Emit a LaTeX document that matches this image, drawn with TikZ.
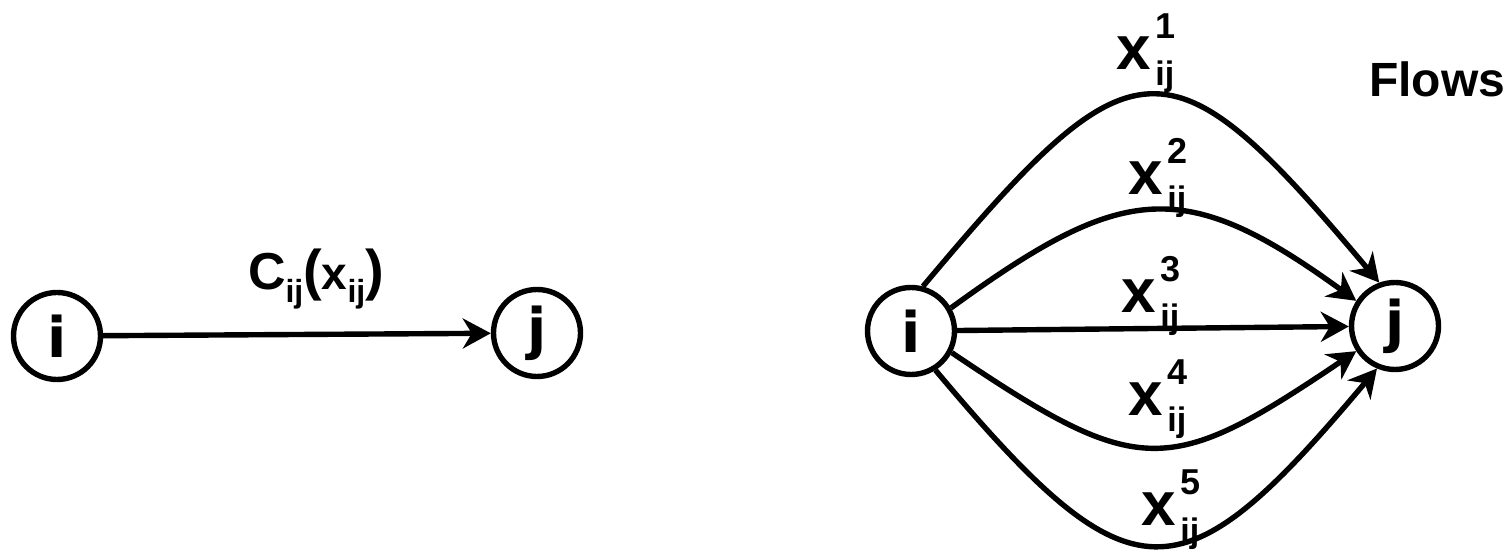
\documentclass[tikz,border=0pt]{standalone}
\usepackage{fontspec}
\setmainfont{Liberation Sans}
\newfontfamily\vertexfont{DejaVu Sans}
\usetikzlibrary{arrows.meta}

% font size in points, with matching baseline skip
\newcommand\setfs[1]{\fontsize{#1}{#1}\selectfont}
% flow variable x with stacked superscript (path index) and subscript ij
\newcommand\flowvar[1]{\textbf{\setfs{62}x\kern5pt\rlap{\raisebox{31pt}{\setfs{36}#1}}\raisebox{-16pt}{\setfs{34}ij}}}

\tikzset{
  vertex/.style={circle, draw, line width=5.4pt, minimum size=87pt, inner sep=0pt,
                 font=\vertexfont\bfseries\setfs{56}},
  arc/.style={line width=5.4pt, -{Stealth[length=28pt,width=30pt,inset=9pt]}},
  lbl/.style={anchor=base west, inner sep=0pt, outer sep=0pt},
}

\begin{document}
\begin{tikzpicture}[x=1pt, y=1pt]
  \useasboundingbox (0,0) rectangle (1506,551);
  \fill[white] (0,0) rectangle (1506,551);

  % single arc with cost function
  \node[vertex] (li) at (57,215) {i};
  \node[vertex] (lj) at (537,218) {j};
  \draw[arc] (li) -- (lj);
  \node[lbl] (cost) at (248,261) {\textbf{\setfs{52}C\raisebox{-13pt}{\setfs{32}ij}{\setfs{56}(}\setfs{46}x\raisebox{-13pt}{\setfs{32}ij}{\setfs{56})}}};

  % parallel flows between the same pair of vertices
  \node[vertex] (ri) at (911,220) {i};
  \node[vertex] (rj) at (1395,225) {j};
  \draw[arc] (ri.75)  .. controls +(50:329)   and +(130:329)  .. (rj.110);
  \draw[arc] (ri.30)  .. controls +(36:213)   and +(144:213)  .. (rj.147);
  \draw[arc] (ri) -- (rj);
  \draw[arc] (ri.-28) .. controls +(-34:227)  and +(-146:227) .. (rj.-147);
  \draw[arc] (ri.-58) .. controls +(-50:306)  and +(-130:306) .. (rj.-113);

  \node[lbl] (f1) at (1116,481) {\flowvar{1}};
  \node[lbl] (f2) at (1128,356) {\flowvar{2}};
  \node[lbl] (f3) at (1121,238) {\flowvar{3}};
  \node[lbl] (f4) at (1128,135) {\flowvar{4}};
  \node[lbl] (f5) at (1141,25)  {\flowvar{5}};

  \node[lbl] (title) at (1369,454) {\textbf{\setfs{48}Flows}};
\end{tikzpicture}
\end{document}
